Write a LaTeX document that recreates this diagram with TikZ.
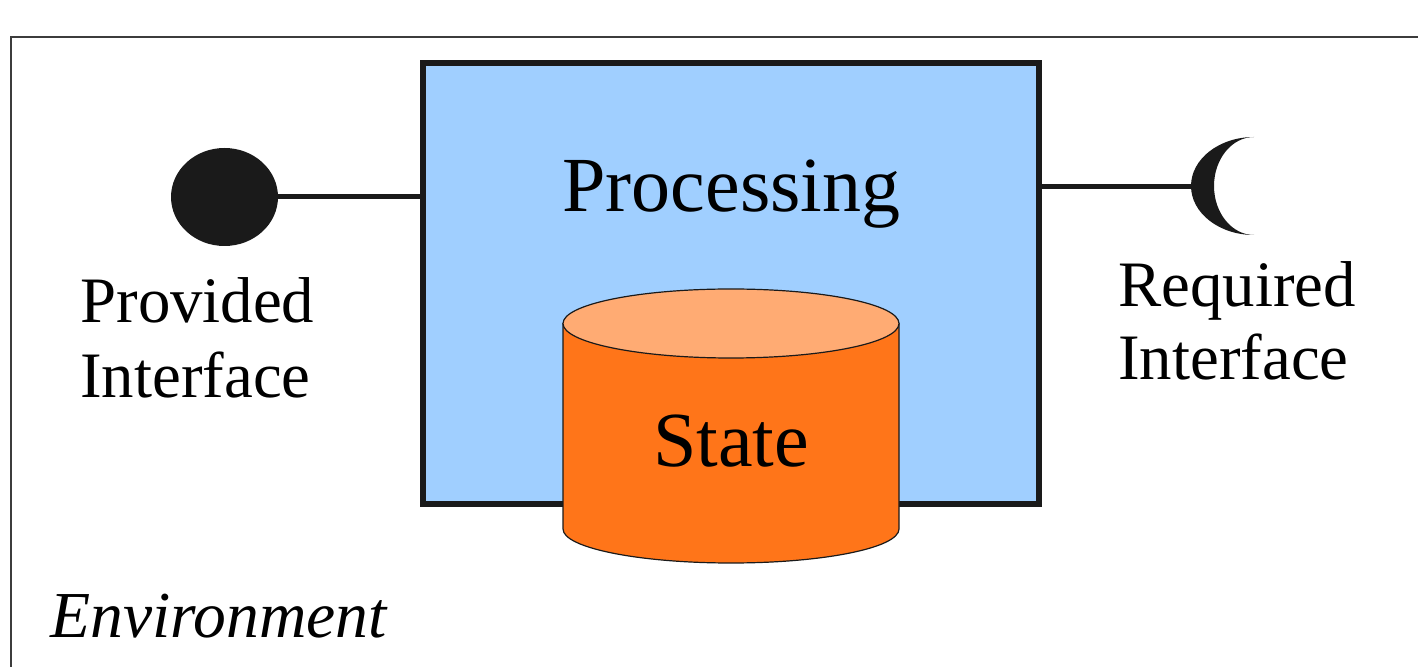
\documentclass[tikz,border=0pt]{standalone}
\usepackage{fontspec}
\setmainfont{Liberation Serif}
\usetikzlibrary{shapes.geometric}
\definecolor{procblue}{HTML}{A0CFFF}
\definecolor{statebody}{HTML}{FF7519}
\definecolor{statetop}{HTML}{FFAB73}
\definecolor{ink}{HTML}{1A1A1A}

\begin{document}
\begin{tikzpicture}[x=0.5pt,y=-0.5pt,
    wire/.style={ink,line width=2.5pt},
    lbl/.style={inner sep=0pt,anchor=base west,font=\fontsize{32.4}{38}\selectfont},
    big/.style={inner sep=0pt,anchor=base,font=\fontsize{39}{46}\selectfont}]
    \useasboundingbox (0,0) rectangle (1418,667);

    % environment frame
    \draw[ink!85,line width=1pt] (11,667) -- (11,37) -- (1418,37);
    \node[lbl,font=\fontsize{32.8}{39}\selectfont\itshape] (env) at (50,637) {Environment};

    % component
    \node[draw=ink,fill=procblue,line width=3pt,minimum width=308pt,minimum height=220.5pt,inner sep=0pt] (proc) at (731,283.5) {};
    \node[big] (proctext) at (731.5,212) {Processing};

    % state
    \filldraw[draw=ink,fill=statebody,line width=0.6pt] (563,323.5) -- (563,529)
        arc[start angle=180,end angle=360,x radius=84pt,y radius=17pt] -- (899,323.5) -- cycle;
    \filldraw[draw=ink,fill=statetop,line width=0.6pt] (731,323.5) ellipse[x radius=84pt,y radius=17.25pt];
    \node[big] (state) at (731,467) {State};

    % provided
    \node[ellipse,fill=ink,minimum width=53.5pt,minimum height=49pt,inner sep=0pt] (prov) at (224.5,197) {};
    \node[lbl] (provtext) at (80,323) {Provided};
    \node[lbl] (provtext2) at (80,398) {Interface};

    % required
    \coordinate (req) at (1191,186.5);
    \fill[ink] (1254,137) arc[start angle=90,end angle=270,x radius=31.5pt,y radius=24.5pt]
        arc[start angle=270,end angle=90,x radius=20pt,y radius=24.5pt] -- cycle;
    \node[lbl] (reqtext) at (1118,307) {Required};
    \node[lbl] (reqtext2) at (1118,380) {Interface};

\draw[wire] (prov) -- (proc.west |- prov);
\draw[wire] (proc.east |- req) -- (req);

\end{tikzpicture}
\end{document}
